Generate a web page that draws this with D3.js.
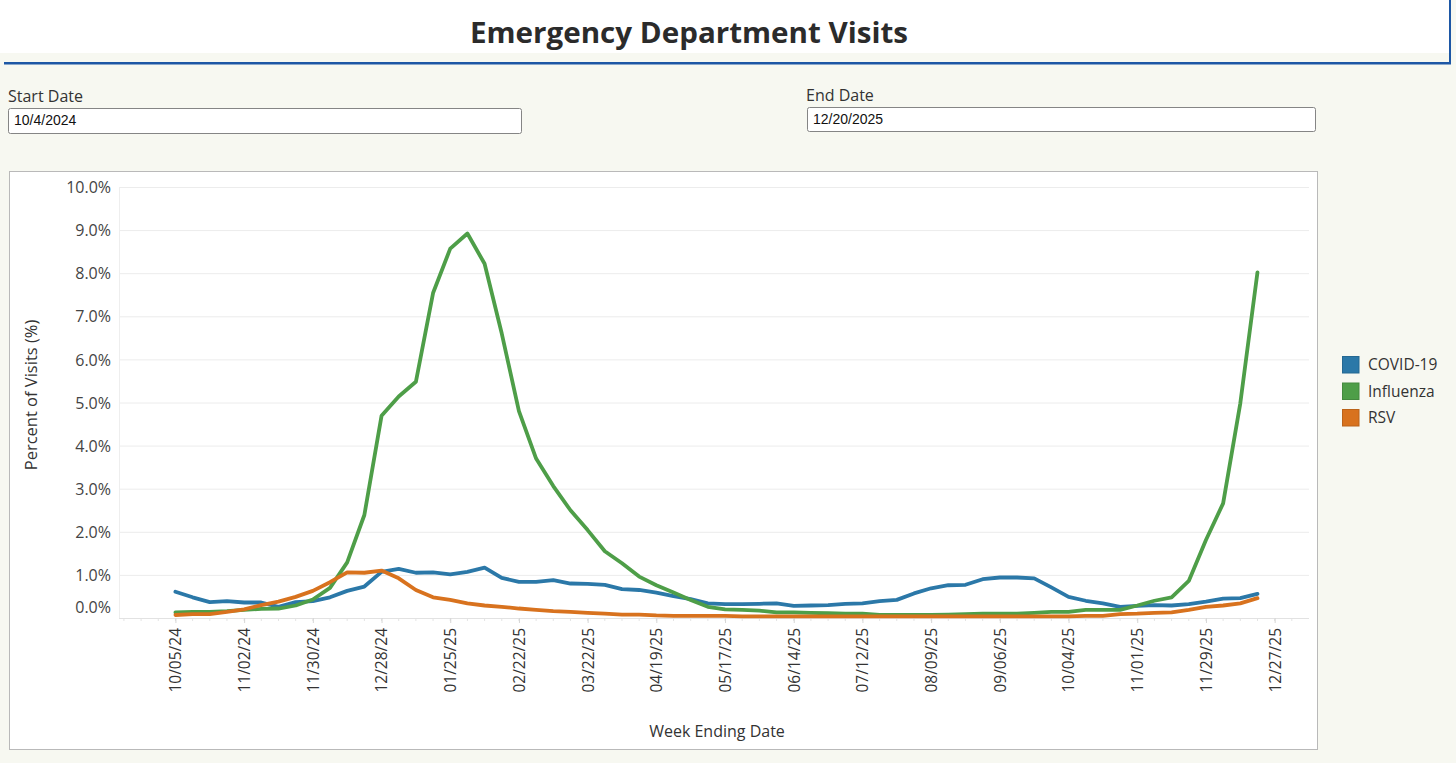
<!DOCTYPE html>
<html><head><meta charset="utf-8">
<script src="https://cdn.jsdelivr.net/npm/d3@7"></script>
<style>
body{margin:0;background:#f7f8f1;}
svg{display:block;font-family:"Open Sans",sans-serif;}
</style></head><body>
<svg id="c" width="1456" height="763"></svg>
<script>
// ---- data ----
const firstWeek = "2024-10-05";
const covid = [0.61,0.48,0.37,0.39,0.36,0.36,0.26,0.37,0.39,0.48,0.63,0.73,1.07,1.14,1.05,1.06,1.01,1.07,1.17,0.93,0.84,0.84,0.88,0.80,0.79,0.77,0.67,0.65,0.59,0.51,0.44,0.34,0.32,0.32,0.33,0.34,0.28,0.29,0.30,0.33,0.34,0.39,0.42,0.57,0.69,0.76,0.77,0.90,0.94,0.94,0.92,0.71,0.49,0.40,0.34,0.26,0.28,0.30,0.29,0.32,0.38,0.45,0.46,0.56];
const influenza = [0.13,0.14,0.14,0.16,0.19,0.21,0.22,0.29,0.43,0.70,1.29,2.39,4.69,5.14,5.48,7.54,8.57,8.92,8.22,6.60,4.80,3.70,3.06,2.50,2.04,1.55,1.27,0.96,0.76,0.59,0.42,0.26,0.20,0.19,0.17,0.13,0.13,0.12,0.11,0.10,0.10,0.07,0.07,0.07,0.07,0.08,0.09,0.10,0.10,0.10,0.12,0.14,0.14,0.19,0.19,0.19,0.29,0.40,0.48,0.86,1.81,2.66,4.98,8.02];
const rsv = [0.07,0.09,0.09,0.14,0.20,0.30,0.38,0.49,0.63,0.83,1.06,1.05,1.10,0.92,0.65,0.48,0.42,0.34,0.29,0.26,0.22,0.19,0.16,0.14,0.12,0.10,0.08,0.08,0.06,0.05,0.05,0.05,0.05,0.04,0.04,0.04,0.04,0.04,0.04,0.04,0.04,0.04,0.04,0.04,0.04,0.04,0.04,0.04,0.04,0.04,0.04,0.04,0.04,0.05,0.05,0.09,0.10,0.12,0.13,0.19,0.26,0.29,0.34,0.46];
const seriesNames = ["COVID-19","Influenza","RSV"];
const seriesColors = ["#2b78a8","#4e9e48","#d8721e"];
const yTicks = [0,1,2,3,4,5,6,7,8,9,10];
const xTickLabels = ["10/05/24","11/02/24","11/30/24","12/28/24","01/25/25","02/22/25","03/22/25","04/19/25","05/17/25","06/14/25","07/12/25","08/09/25","09/06/25","10/04/25","11/01/25","11/29/25","12/27/25"];
const startDateText = "10/4/2024";
const endDateText = "12/20/2025";

// ---- drawing ----
const svg = d3.select("#c");
const parseIso = d3.utcParse("%Y-%m-%d");
const parseTick = d3.utcParse("%m/%d/%y");
const fmtTick = d3.utcFormat("%m/%d/%y");
const w0 = parseIso(firstWeek);
const weeks = covid.map((_, i) => d3.utcDay.offset(w0, 7 * i));

// header
svg.append("rect").attr("x",0).attr("y",0).attr("width",1450).attr("height",53).attr("fill","#ffffff");
svg.append("rect").attr("x",4).attr("y",62).attr("width",1447).attr("height",2.5).attr("fill","#1d57a5");
svg.append("rect").attr("x",1449).attr("y",0).attr("width",2).attr("height",64).attr("fill","#1d57a5");
svg.append("text").attr("x",689).attr("y",43).attr("text-anchor","middle")
  .attr("font-size",29).attr("font-weight",700).attr("fill","#2b2b2b")
  .attr("textLength",438).attr("lengthAdjust","spacingAndGlyphs")
  .text("Emergency Department Visits");

// date inputs
function dateBox(lx, ly, bx, by, bw, bh, label, value){
  svg.append("text").attr("x",lx).attr("y",ly).attr("font-size",16).attr("fill","#333").text(label);
  svg.append("rect").attr("x",bx+0.5).attr("y",by+0.5).attr("width",bw).attr("height",bh).attr("rx",2)
    .attr("fill","#fff").attr("stroke","#858585");
  svg.append("text").attr("x",bx+6).attr("y",by+17).attr("font-size",14)
    .attr("font-family","'Liberation Sans',Arial,sans-serif").attr("fill","#111").text(value);
}
dateBox(8, 102, 8, 108, 513, 25, "Start Date", startDateText);
dateBox(806, 101, 807, 107, 508, 24, "End Date", endDateText);

// chart frame
svg.append("rect").attr("x",9.5).attr("y",171.5).attr("width",1308).attr("height",578)
  .attr("fill","#fff").attr("stroke","#b9b9b9");

const x = d3.scaleUtc().domain([parseIso("2024-09-12"), parseIso("2026-01-10")]).range([119,1309]);
const y = d3.scaleLinear().domain([0,10]).range([618,187]);

// gridlines
svg.append("g").selectAll("line").data(yTicks.filter(d=>d>0)).join("line")
  .attr("x1",119).attr("x2",1309).attr("y1",d=>y(d)+0.5).attr("y2",d=>y(d)+0.5)
  .attr("stroke","#ececec").attr("stroke-width",1);
svg.append("line").attr("x1",119.5).attr("x2",119.5).attr("y1",187).attr("y2",618)
  .attr("stroke","#eeeeee");

// y axis
const yAxis = d3.axisLeft(y).tickValues(yTicks).tickSize(0).tickPadding(0)
  .tickFormat(d => d3.format(".1f")(d) + "%");
const gy = svg.append("g").attr("transform","translate(111,0)").call(yAxis);
gy.select(".domain").remove();
gy.selectAll("text").attr("font-size",16).attr("fill","#444").attr("font-family","'Open Sans',sans-serif")
  .attr("dy","0.35em").attr("x",0);
gy.selectAll(".tick").filter(d=>d===0).select("text").attr("dy","-0.36em");

svg.append("text").attr("transform","translate(37,395) rotate(-90)").attr("text-anchor","middle")
  .attr("font-size",16.5).attr("fill","#333").text("Percent of Visits (%)");

// x axis minor ticks (weekly)
svg.append("g").selectAll("line").data(d3.utcDay.range(parseIso("2024-09-14"), parseIso("2026-01-10"), 7)).join("line")
  .attr("x1",d=>x(d)).attr("x2",d=>x(d)).attr("y1",618).attr("y2",621).attr("stroke","#e4e4e4");

const xAxis = d3.axisBottom(x).tickValues(xTickLabels.map(parseTick)).tickFormat(fmtTick)
  .tickSize(5).tickPadding(0);
const gx = svg.append("g").attr("transform","translate(0,618)").call(xAxis);
gx.select(".domain").attr("stroke","#e2e2e2").attr("d","M119,0.5H1309");
gx.selectAll(".tick line").attr("stroke","#d6d6d6");
gx.selectAll(".tick text").attr("font-size",15.5).attr("fill","#333").attr("font-family","'Open Sans',sans-serif")
  .attr("text-anchor","end").attr("transform","rotate(-90)").attr("x",-10).attr("y",0).attr("dy","0.35em");

svg.append("text").attr("x",717).attr("y",737).attr("text-anchor","middle")
  .attr("font-size",16).attr("fill","#333").text("Week Ending Date");

// lines
const allSeries = [covid, influenza, rsv];
const line = d3.line().x((d,i)=>x(weeks[i])).y(d=>y(d));
svg.append("g").selectAll("path").data(allSeries).join("path")
  .attr("d", d=>line(d)).attr("fill","none")
  .attr("stroke",(d,i)=>seriesColors[i]).attr("stroke-width",3.8)
  .attr("stroke-linejoin","round").attr("stroke-linecap","round");

// legend
const lg = svg.append("g");
seriesNames.forEach((n,i)=>{
  lg.append("rect").attr("x",1342.5).attr("y",356.5+i*26.5).attr("width",16.5).attr("height",16.5)
    .attr("fill",seriesColors[i]).attr("stroke",d3.color(seriesColors[i]).darker(0.4));
  lg.append("text").attr("x",1368).attr("y",370+i*26.5).attr("font-size",15.5).attr("fill","#333").text(n);
});
</script>
</body></html>
